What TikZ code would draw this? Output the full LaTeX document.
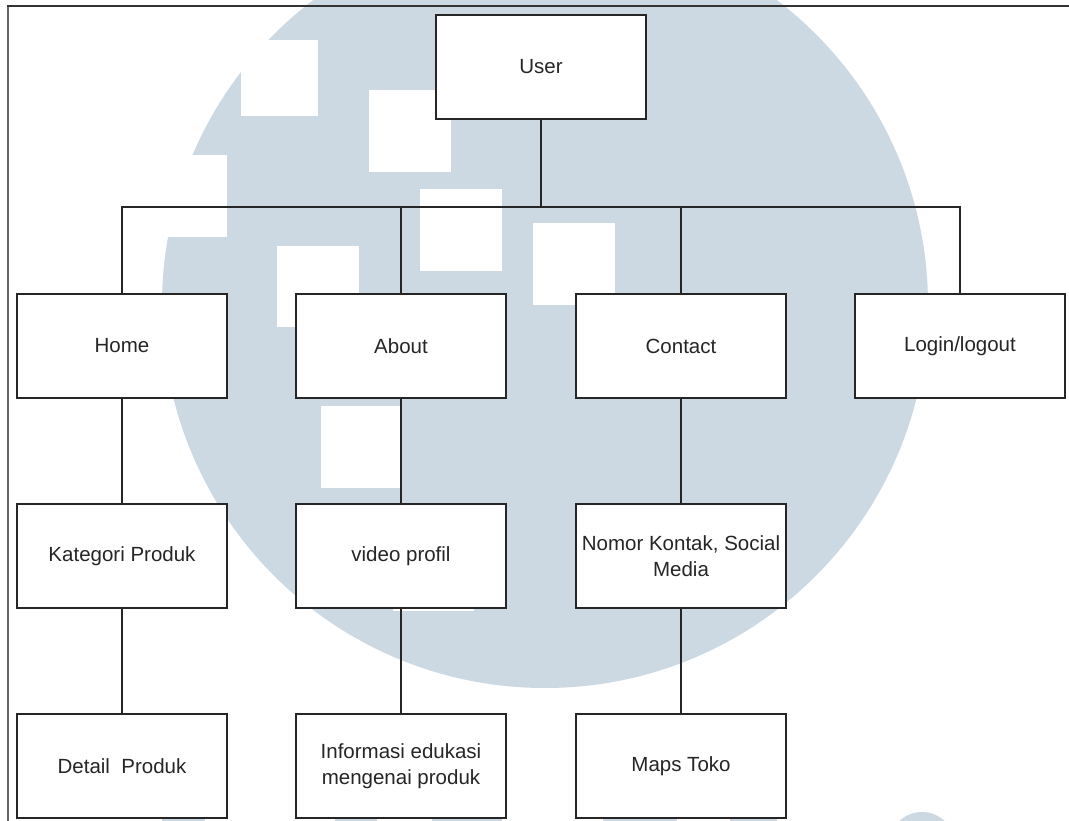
\documentclass[tikz,border=0pt]{standalone}
\usepackage{fontspec}
\setmainfont{Liberation Sans}
\begin{document}
\begin{tikzpicture}[x=1pt,y=-1pt,
  every node/.style={font=\fontsize{20.5}{25.5}\selectfont, text=black!85},
  pagebox/.style={draw=black!85, fill=white, line width=2pt,
    minimum width=210pt, minimum height=104pt, inner sep=1pt, align=center},
  link/.style={draw=black!85, line width=2pt},
  cutsquare/.style={fill=white, draw=none},
  seal/.style={fill=sealblue, draw=none}]
\definecolor{sealblue}{RGB}{204,217,227}
\clip (0,0) rectangle (1069,821);
\fill[white] (0,0) rectangle (1069,821);

% seal in the background
\fill[seal] (545,305) circle[radius=383pt];
\fill[seal] (922,845) circle[radius=33pt];
\fill[seal] (162,819) rectangle (205,821);
\fill[seal] (335,819) rectangle (377,821);
\fill[seal] (432,819) rectangle (502,821);
\fill[seal] (603,819) rectangle (677,821);
\fill[seal] (730,819) rectangle (777,821);
% white squares cut into the seal
\fill[cutsquare] (241,40) rectangle (318,116);
\fill[cutsquare] (369,90) rectangle (451,172);
\fill[cutsquare] (100,155) rectangle (227,237);
\fill[cutsquare] (420,189) rectangle (502,271);
\fill[cutsquare] (277,246) rectangle (359,327);
\fill[cutsquare] (533,223) rectangle (615,305);
\fill[cutsquare] (321,406) rectangle (401,488);
\fill[cutsquare] (393,530) rectangle (474,611);

% frame
\draw[line width=2pt, draw=black!60] (8,6) -- (8,830);
\draw[line width=2pt, draw=black!80] (7,6) -- (1080,6);

% pages
\node[pagebox] (user)    at (541,67)  {User};
\node[pagebox] (home)    at (122,346) {Home};
\node[pagebox] (about)   at (401,346) {About};
\node[pagebox] (contact) at (681,346) {Contact};
\node[pagebox] (login)   at (960,346) {Login/logout};
\node[pagebox] (kat)     at (122,556) {Kategori Produk};
\node[pagebox] (video)   at (401,556) {video profil};
\node[pagebox] (nomor)   at (681,556) {Nomor Kontak, Social\\Media};
\node[pagebox] (detail)  at (122,766) {Detail\ \ Produk};
\node[pagebox] (info)    at (401,766) {Informasi edukasi\\mengenai produk};
\node[pagebox] (maps)    at (681,766) {Maps Toko};

% links
\coordinate (bus) at (541,207);
\draw[link] (user.south) -- (bus) -| (home.north);
\draw[link] (bus) -| (about.north);
\draw[link] (bus) -| (contact.north);
\draw[link] (bus) -| (login.north);
\draw[link] (home.south) -- (kat.north);
\draw[link] (kat.south) -- (detail.north);
\draw[link] (about.south) -- (video.north);
\draw[link] (video.south) -- (info.north);
\draw[link] (contact.south) -- (nomor.north);
\draw[link] (nomor.south) -- (maps.north);
\end{tikzpicture}
\end{document}
